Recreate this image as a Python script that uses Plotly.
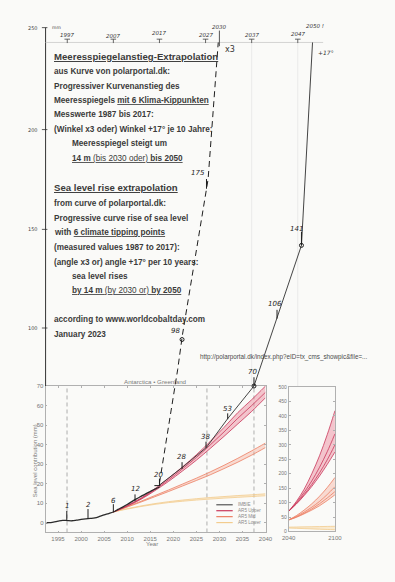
import plotly.graph_objects as go

# ---------------- data ----------------
obs_years = list(range(1992, 2018))
obs_vals = [0.0, 0.0, 0.3, 0.8, 1.2, 1.1, 1.0, 1.3, 1.7, 2.0, 2.2, 2.5, 3.2, 4.0,
            4.7, 5.5, 6.8, 8.0, 9.3, 10.8, 12.2, 13.5, 14.8, 16.0, 17.2, 18.3]

proj_years = [2007, 2010, 2013, 2016, 2019, 2022, 2025, 2028, 2031, 2034, 2037, 2040]
upper_hi = [5.5, 8.8, 12.6, 17.4, 22.8, 28.6, 34.8, 41.6, 48.8, 56.4, 63.0, 70.0]
upper_md = [5.5, 8.6, 12.3, 16.9, 22.0, 27.6, 33.4, 39.8, 46.5, 53.5, 60.0, 66.8]
upper_lo = [5.5, 8.5, 12.0, 16.4, 21.2, 26.5, 32.0, 38.0, 44.2, 50.6, 57.0, 64.0]
mid_hi = [5.5, 8.2, 11.0, 13.9, 16.8, 19.8, 22.8, 26.0, 29.4, 33.0, 36.8, 40.8]
mid_lo = [5.5, 8.0, 10.6, 13.3, 16.0, 18.8, 21.6, 24.5, 27.7, 31.0, 34.6, 38.5]
low_hi = [5.5, 7.2, 8.6, 9.8, 10.8, 11.6, 12.3, 12.9, 13.4, 13.9, 14.3, 14.8]
low_lo = [5.5, 7.0, 8.3, 9.4, 10.3, 11.0, 11.6, 12.1, 12.6, 13.0, 13.4, 13.8]

inset_years = [2040, 2050, 2060, 2070, 2080, 2090, 2100]
inset_up_a = [70, 104, 146, 200, 262, 335, 418]
inset_up_b = [70, 100, 135, 175, 222, 276, 338]
inset_up_c = [70, 97, 128, 163, 203, 248, 300]
inset_up_d = [70, 95, 124, 156, 192, 232, 275]
inset_mid_a = [40, 55, 74, 96, 122, 152, 187]
inset_mid_b = [40, 52, 67, 84, 104, 128, 155]
inset_mid_c = [40, 50, 63, 78, 96, 116, 138]
inset_mid_d = [40, 49, 61, 74, 89, 107, 127]
inset_low_a = [15, 15.5, 16, 16.5, 17, 17.5, 18]
inset_low_b = [12, 11, 10, 9, 8, 7, 6]

# hand-drawn extrapolations (mm)
dash_years = [2017.0, 2020.96, 2022.0, 2027.55, 2029.75]
dash_vals = [20.3, 78.6, 96.4, 175.9, 245.9]
solid_years = [2017.0, 2021.8, 2027.2, 2031.8, 2037.5, 2042.5, 2047.8, 2050.2]
solid_vals = [19.3, 28.0, 38.6, 53.3, 70.0, 105.0, 142.0, 245.9]

hand_labels = ["1", "2", "6", "12", "20", "28", "38", "53", "70", "106", "141", "175", "98"]
hand_label_x = [1996.9, 2001.5, 2007.0, 2011.7, 2016.7, 2021.7, 2027.0, 2031.7, 2037.1,
                2042.1, 2046.7, 2025.4, 2020.4]
hand_label_y = [8.5, 9.0, 11.3, 17.5, 24.5, 33.8, 43.9, 58.0, 77.1, 112.0, 150.6, 179.0, 98.3]
tick_x = [1996.9, 2001.5, 2007.0, 2011.7, 2017.0, 2021.9, 2027.1, 2031.8, 2037.5, 2042.5, 2047.8, 2027.2]
tick_top = [6.0, 7.0, 9.5, 14.5, 22.5, 31.0, 41.5, 56.0, 74.5, 109.0, 149.0, 176.0]
tick_bot = [1.2, 2.0, 5.5, 11.0, 19.0, 27.5, 38.3, 53.0, 70.0, 104.5, 142.0, 171.0]
marker_years = [2021.9, 2037.5, 2047.8]
marker_vals = [93.8, 70.0, 142.0]

top_year_labels = ["1997", "2007", "2017", "2027", "2030", "2037", "2047", "2050 !"]
top_year_x = [1997.0, 2007.0, 2017.0, 2027.0, 2030.0, 2037.0, 2047.0, 2050.8]
top_year_y = [249.9, 249.4, 250.9, 249.9, 254.0, 249.9, 250.4, 254.2]
top_tick_years = [1997, 2007, 2017, 2027, 2037, 2047]

left_tick_vals = [253.5, 201.3, 150.2, 99.7]
left_tick_labels = ["250", "200", "150", "100"]

inner_xticks = [1995, 2000, 2005, 2010, 2015, 2020, 2025, 2030, 2035, 2040]
inner_yticks = [0, 10, 20, 30, 40, 50, 60, 70]
inset_yticks = [0, 50, 100, 150, 200, 250, 300, 350, 400, 450, 500]
vline_years = [1996.95, 2027.3, 2037.5]
faint_years = [2037.0, 2047.0]

# ---------------- layout helpers ----------------
W, H = 395, 582
def fx(p):
    return p / W
def fy(p):
    return 1 - p / H

UP_LINE = "#c9375a"
UP_FILL = "rgba(236,130,150,0.45)"
MID_LINE = "#ec7f63"
MID_FILL = "rgba(246,170,150,0.40)"
LOW_LINE = "#f3cc8e"
LOW_FILL = "rgba(248,215,160,0.45)"
INK = "#1e1e1e"

fig = go.Figure()

def band(x, lo, hi, fill, xa, ya):
    fig.add_trace(go.Scatter(x=x, y=lo, mode="lines", line=dict(width=0, shape="spline"),
                             xaxis=xa, yaxis=ya, hoverinfo="skip", showlegend=False))
    fig.add_trace(go.Scatter(x=x, y=hi, mode="lines", line=dict(width=0, shape="spline"),
                             fill="tonexty", fillcolor=fill,
                             xaxis=xa, yaxis=ya, hoverinfo="skip", showlegend=False))

def line(x, y, color, width, xa, ya, shape="spline", dash=None):
    fig.add_trace(go.Scatter(x=x, y=y, mode="lines",
                             line=dict(color=color, width=width, shape=shape, dash=dash),
                             xaxis=xa, yaxis=ya, hoverinfo="skip", showlegend=False))

# ---- inner plot (x, y) ----
for vx in vline_years:
    line([vx, vx], [-5, 70], "#9a9a9a", 0.8, "x", "y", shape="linear", dash="4px,3px")

band(proj_years, low_lo, low_hi, LOW_FILL, "x", "y")
line(proj_years, low_hi, LOW_LINE, 0.8, "x", "y")
line(proj_years, low_lo, LOW_LINE, 0.8, "x", "y")
band(proj_years, mid_lo, mid_hi, MID_FILL, "x", "y")
line(proj_years, mid_hi, MID_LINE, 0.8, "x", "y")
line(proj_years, mid_lo, MID_LINE, 0.8, "x", "y")
band(proj_years, upper_lo, upper_hi, UP_FILL, "x", "y")
line(proj_years, upper_hi, UP_LINE, 0.8, "x", "y")
line(proj_years, upper_md, UP_LINE, 0.8, "x", "y")
line(proj_years, upper_lo, UP_LINE, 0.8, "x", "y")
line(obs_years, obs_vals, "#2a2a2a", 1.3, "x", "y")

# ---- inset (x3, y3) ----
band(inset_years, inset_low_b, inset_low_a, LOW_FILL, "x3", "y3")
line(inset_years, inset_low_a, LOW_LINE, 0.8, "x3", "y3")
line(inset_years, inset_low_b, LOW_LINE, 0.8, "x3", "y3")
band(inset_years, inset_mid_d, inset_mid_a, MID_FILL, "x3", "y3")
for s in (inset_mid_a, inset_mid_b, inset_mid_c, inset_mid_d):
    line(inset_years, s, MID_LINE, 0.8, "x3", "y3")
band(inset_years, inset_up_d, inset_up_a, UP_FILL, "x3", "y3")
for s in (inset_up_a, inset_up_b, inset_up_c, inset_up_d):
    line(inset_years, s, UP_LINE, 0.8, "x3", "y3")

# ---- hand-drawn overlay (x2, y2) ----
x0_axis = 1992.3
line([x0_axis, x0_axis], [70, left_tick_vals[0]], "#333333", 1.0, "x2", "y2", shape="linear")
tx, ty = [], []
for v in left_tick_vals:
    tx += [x0_axis - 0.8, x0_axis + 0.4, None]
    ty += [v, v, None]
line(tx, ty, "#333333", 0.8, "x2", "y2", shape="linear")

line([x0_axis, 2052.5], [245.9, 245.9], "#cfcfcf", 0.9, "x2", "y2", shape="linear")
for fyr in faint_years:
    line([fyr, fyr], [70, 245.9], "#e6e6e6", 0.8, "x2", "y2", shape="linear")

# T marks under the top year labels
tx, ty = [], []
for yr in top_tick_years:
    tx += [yr - 0.6, yr + 0.6, None, yr, yr, None]
    ty += [247.6, 247.6, None, 247.6, 245.6, None]
line(tx, ty, "#444444", 0.8, "x2", "y2", shape="linear")
line([2030.0, 2030.0], [252.0, 244.0], "#444444", 0.9, "x2", "y2", shape="linear")

line(dash_years, dash_vals, INK, 1.0, "x2", "y2", shape="linear", dash="6px,4px")
line(solid_years, solid_vals, "#303030", 0.9, "x2", "y2", shape="linear")

tx, ty = [], []
for x_, t_, b_ in zip(tick_x, tick_top, tick_bot):
    tx += [x_, x_, None]
    ty += [t_, b_, None]
tx += [2015.9, 2017.2, None]
ty += [19.0, 19.0, None]
line(tx, ty, INK, 1.0, "x2", "y2", shape="linear")

fig.add_trace(go.Scatter(x=marker_years, y=marker_vals, mode="markers",
                         marker=dict(symbol="circle-open", size=4, color=INK, line=dict(width=1)),
                         xaxis="x2", yaxis="y2", hoverinfo="skip", showlegend=False))

annotations = []
hand_font = dict(family="DejaVu Sans", size=7, color=INK, style="italic")
for t, x_, y_ in zip(hand_labels, hand_label_x, hand_label_y):
    annotations.append(dict(x=x_, y=y_, xref="x2", yref="y2", text=t, showarrow=False,
                            font=hand_font, xanchor="center", yanchor="middle"))
small_hand = dict(family="DejaVu Sans", size=5.5, color="#333333", style="italic")
for t, x_, y_ in zip(top_year_labels, top_year_x, top_year_y):
    annotations.append(dict(x=x_, y=y_, xref="x2", yref="y2", text=t, showarrow=False,
                            font=small_hand, xanchor="center", yanchor="middle"))
for t, v in zip(left_tick_labels, left_tick_vals):
    annotations.append(dict(x=x0_axis - 1.2, y=v, xref="x2", yref="y2", text=t, showarrow=False,
                            font=dict(family="DejaVu Sans", size=5, color="#444444"),
                            xanchor="right", yanchor="middle"))
annotations.append(dict(x=x0_axis + 0.9, y=left_tick_vals[0], xref="x2", yref="y2", text="mm",
                        showarrow=False, font=dict(family="DejaVu Sans", size=4.5, color="#444444"),
                        xanchor="left", yanchor="middle"))
annotations.append(dict(x=2030.7, y=242.3, xref="x2", yref="y2", text="x3", showarrow=False,
                        font=dict(family="DejaVu Sans", size=8, color="#333333"),
                        xanchor="left", yanchor="middle"))
annotations.append(dict(x=2051.0, y=240.8, xref="x2", yref="y2", text="+17°", showarrow=False,
                        font=dict(family="DejaVu Sans", size=6, color="#333333", style="italic"),
                        xanchor="left", yanchor="middle"))

# ---- text block ----
TXT = "#3a3a3a"
body = dict(family="Liberation Sans, Arial", size=8.2, color=TXT, weight=700)
head = dict(family="Liberation Sans, Arial", size=9.6, color=TXT, weight=700)
NORMAL = '<span style="font-weight:normal">'
text_lines = [
    (47, 54, "<u>Meeresspiegelanstieg-Extrapolation</u>", head),
    (47, 69.5, "aus Kurve von polarportal.dk:", body),
    (47, 84, "Progressiver Kurvenanstieg des", body),
    (47, 98.6, "Meeresspiegels <u>mit 6 Klima-Kippunkten</u>", body),
    (47, 112.8, "Messwerte 1987 bis 2017:", body),
    (47, 127.7, "(Winkel x3 oder) Winkel +17° je 10 Jahre:", body),
    (65, 142.3, "Meeresspiegel steigt um", body),
    (65, 156.7, "<u>14 m " + NORMAL + "(bis 2030 oder)</span> bis 2050</u>", body),
    (47, 186.5, "<u>Sea level rise extrapolation</u>", head),
    (47, 202.3, "from curve of polarportal.dk:", body),
    (47, 217.5, "Progressive curve rise of sea level", body),
    (47, 232.3, "with <u>6 climate tipping points</u>", body),
    (47, 246.7, "(measured values 1987 to 2017):", body),
    (47, 261.7, "(angle x3 or) angle +17° per 10 years:", body),
    (65, 276, "sea level rises", body),
    (65, 290.7, "<u>by 14 m " + NORMAL + "(by 2030 or)</span> by 2050</u>", body),
    (47, 320, "according to www.worldcobaltday.com", body),
    (47, 335, "January 2023", body),
]
for x_, y_, t, f in text_lines:
    annotations.append(dict(x=fx(x_), y=fy(y_), xref="paper", yref="paper", text=t,
                            showarrow=False, font=f, xanchor="left", yanchor="middle"))

annotations.append(dict(x=fx(198), y=fy(358), xref="paper", yref="paper",
                        text="http://polarportal.dk/index.php?eID=tx_cms_showpic&file=...",
                        showarrow=False, xanchor="left", yanchor="middle",
                        font=dict(family="Liberation Sans, Arial", size=6.3, color="#4a4a4a")))
annotations.append(dict(x=fx(154), y=fy(382.5), xref="paper", yref="paper",
                        text="Antarctica • Greenland", showarrow=False,
                        xanchor="center", yanchor="middle",
                        font=dict(family="Liberation Sans, Arial", size=6.2, color="#7a7a7a")))
annotations.append(dict(x=fx(29), y=fy(462), xref="paper", yref="paper",
                        text="Sea level contribution (mm)", showarrow=False, textangle=-90,
                        xanchor="center", yanchor="middle",
                        font=dict(family="Liberation Sans, Arial", size=6, color="#7a7a7a")))
annotations.append(dict(x=fx(150), y=fy(546.5), xref="paper", yref="paper",
                        text="Year", showarrow=False, xanchor="center", yanchor="middle",
                        font=dict(family="Liberation Sans, Arial", size=6, color="#7a7a7a")))

# ---- legend (drawn) ----
legend_names = ["IMBIE", "AR5 Upper", "AR5 Mid", "AR5 Lower"]
legend_colors = ["#555555", UP_LINE, MID_LINE, LOW_LINE]
legend_rows = [507, 513, 519, 525]
shapes = []
for name, col, ry in zip(legend_names, legend_colors, legend_rows):
    shapes.append(dict(type="line", xref="paper", yref="paper", x0=fx(217), x1=fx(234),
                       y0=fy(ry), y1=fy(ry), line=dict(color=col, width=1.2)))
    annotations.append(dict(x=fx(237), y=fy(ry), xref="paper", yref="paper", text=name,
                            showarrow=False, xanchor="left", yanchor="middle",
                            font=dict(family="Liberation Sans, Arial", size=4.6, color="#8a8a8a")))

axis_common = dict(showline=True, linecolor="#b0b0b0", linewidth=0.8, mirror="ticks",
                   ticks="inside", ticklen=2, tickcolor="#b0b0b0", showgrid=False,
                   zeroline=False, tickfont=dict(family="Liberation Sans, Arial", size=6, color="#777777"))

fig.update_layout(
    width=W, height=H,
    margin=dict(l=0, r=0, t=0, b=0),
    paper_bgcolor="#fafaf8",
    plot_bgcolor="rgba(0,0,0,0)",
    showlegend=False,
    xaxis=dict(domain=[fx(40), fx(268)], range=[1992.3, 2040], anchor="y",
               tickvals=inner_xticks, **axis_common),
    yaxis=dict(domain=[fy(535), fy(387)], range=[-5, 70], anchor="x",
               tickvals=inner_yticks, **axis_common),
    xaxis3=dict(domain=[fx(292), fx(340)], range=[2040, 2100], anchor="y3",
                tickvals=[2040, 2100], **axis_common),
    yaxis3=dict(domain=[fy(534), fy(388)], range=[0, 500], anchor="x3",
                tickvals=inset_yticks, **{**axis_common, "tickfont": dict(family="Liberation Sans, Arial", size=5, color="#777777")}),
    xaxis2=dict(domain=[0, 1], range=[1983.932, 2066.570], anchor="y2", visible=False,
                fixedrange=True),
    yaxis2=dict(domain=[0, 1], range=[-28.818, 266.115], anchor="x2", visible=False,
                fixedrange=True),
    annotations=annotations,
    shapes=shapes,
)

fig.write_html("out.html", config={"displayModeBar": False},
               post_script="document.body.style.margin='0px';document.body.style.overflow='hidden';")
